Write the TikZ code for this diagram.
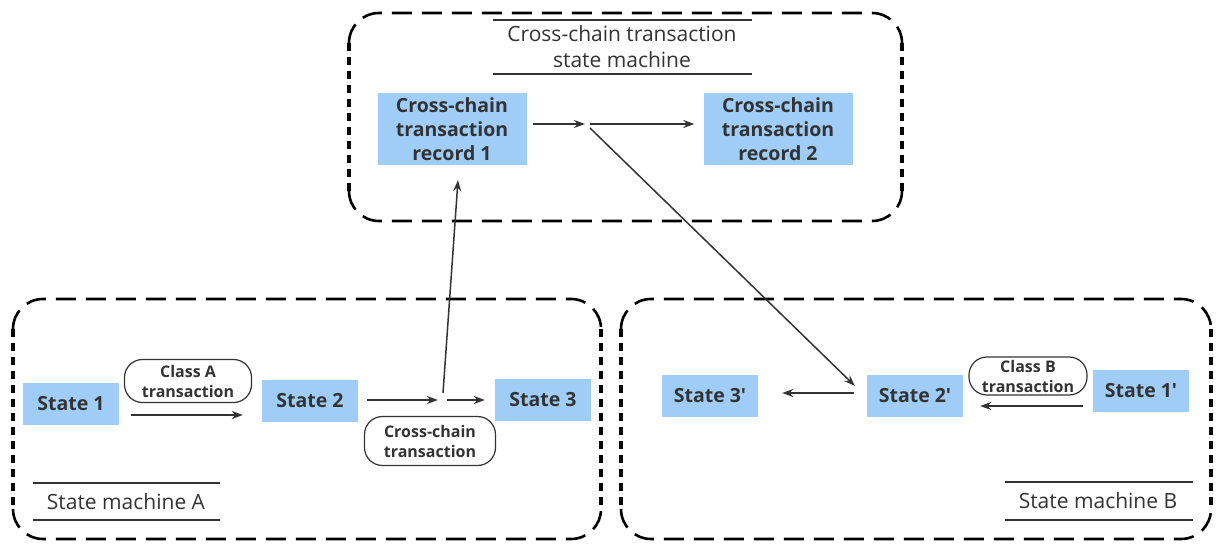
\documentclass[tikz,border=0pt]{standalone}
\usepackage{fontspec}
\setmainfont{Open Sans}
\usetikzlibrary{arrows.meta}
\definecolor{statefill}{HTML}{9FCDF8}
\definecolor{ink}{HTML}{333333}
\tikzset{
  state/.style={fill=statefill, minimum width=96pt, minimum height=42pt, inner sep=0pt,
    font=\fontsize{19.5}{22}\selectfont\bfseries, text=ink},
  record/.style={fill=statefill, minimum width=149pt, minimum height=72pt, inner sep=0pt,
    align=center, font=\fontsize{19.5}{24}\selectfont\bfseries, text=ink},
  tag/.style={draw=ink, line width=1.2pt, rounded corners=18pt, inner sep=0pt,
    align=center, font=\fontsize{16}{20}\selectfont\bfseries, text=ink},
  title/.style={align=center, font=\fontsize{21}{26}\selectfont, text=ink},
  arr/.style={draw=ink, line width=1.5pt, -{Stealth[length=11pt,width=8pt]}},
  longdash/.style={line width=2.6pt, dash pattern=on 20pt off 10pt},
  shortdash/.style={line width=3.4pt, dash pattern=on 8pt off 6pt},
  rule/.style={draw=ink, line width=1.1pt}
}
% dashed frame with rounded corners: long dashes along top and bottom, short dashes on the sides
\newcommand\dashframe[4]{%
  \draw[longdash, rounded corners=30pt] (#1,#2+30) -- (#1,#2) -- (#3,#2) -- (#3,#2+30);
  \draw[longdash, rounded corners=30pt] (#1,#4-30) -- (#1,#4) -- (#3,#4) -- (#3,#4-30);
  \draw[shortdash] (#1,#2+30) -- (#1,#4-30);
  \draw[shortdash] (#3,#2+30) -- (#3,#4-30);
}
\newcommand\pr{\textquotesingle}
\begin{document}
\begin{tikzpicture}[x=1pt, y=-1pt]
\useasboundingbox (0,0) rectangle (1221,545);

% frames
\dashframe{349}{13}{902}{221}
\dashframe{13}{299}{601}{539}
\dashframe{621}{299}{1211}{539}

% cross-chain transaction state machine
\draw[rule] (493,20) -- (752,20);
\draw[rule] (493,74) -- (752,74);
\node[title] (ttl) at (622,47) {Cross-chain transaction\\state machine};
\node[record] (r1) at (452,129) {Cross-chain\\transaction\\record 1};
\node[record] (r2) at (778,129) {Cross-chain\\transaction\\record 2};
\coordinate (j1) at (588,124);
\draw[arr] ([xshift=6pt,yshift=5pt]r1.east) -- ([xshift=-3pt]j1);
\draw[arr] ([xshift=2pt]j1) -- ([xshift=-9pt,yshift=5pt]r2.west);

% state machine A
\node[state] (s1) at (71,404) {State 1};
\node[state] (s2) at (310,401) {State 2};
\node[state] (s3) at (543,400) {State 3};
\node[tag, minimum width=127pt, minimum height=43pt] (ta) at (188,381) {Class A\\transaction};
\node[tag, minimum width=131pt, minimum height=49pt] (tc) at (430,441) {Cross-chain\\transaction};
\coordinate (j2) at (443,400);
\draw[arr] ([xshift=12pt,yshift=-11pt]s1.east) -- ([xshift=-19pt,yshift=-14pt]s2.west);
\draw[arr] ([xshift=9pt,yshift=1pt]s2.east) -- ([xshift=-5pt]j2);
\draw[arr] ([xshift=4pt]j2) -- ([xshift=-10pt]s3.west);
\draw[arr] ([yshift=7pt]j2) -- ([xshift=6pt,yshift=-15pt]r1.south);
\draw[rule] (33,483) -- (220,483);
\draw[rule] (33,520) -- (220,520);
\node[title] (la) at (126,502) {State machine A};

% state machine B
\node[state] (t3) at (710,396) {State 3\pr};
\node[state] (t2) at (915,396) {State 2\pr};
\node[state] (t1) at (1141,391) {State 1\pr};
\node[tag, minimum width=118pt, minimum height=38pt] (tb) at (1028,376) {Class B\\transaction};
\draw[arr] ([xshift=-13pt,yshift=3pt]t2.west) -- ([xshift=24pt,yshift=3pt]t3.east);
\draw[arr] ([xshift=-10pt,yshift=-15pt]t1.west) -- ([xshift=17pt,yshift=-10pt]t2.east);
\draw[arr] ([xshift=2pt,yshift=-4pt]j1) -- ([xshift=-12pt,yshift=-11pt]t2.north west);
\draw[rule] (1005,482) -- (1193,482);
\draw[rule] (1005,520) -- (1193,520);
\node[title] (lb) at (1098,501) {State machine B};
\end{tikzpicture}
\end{document}
